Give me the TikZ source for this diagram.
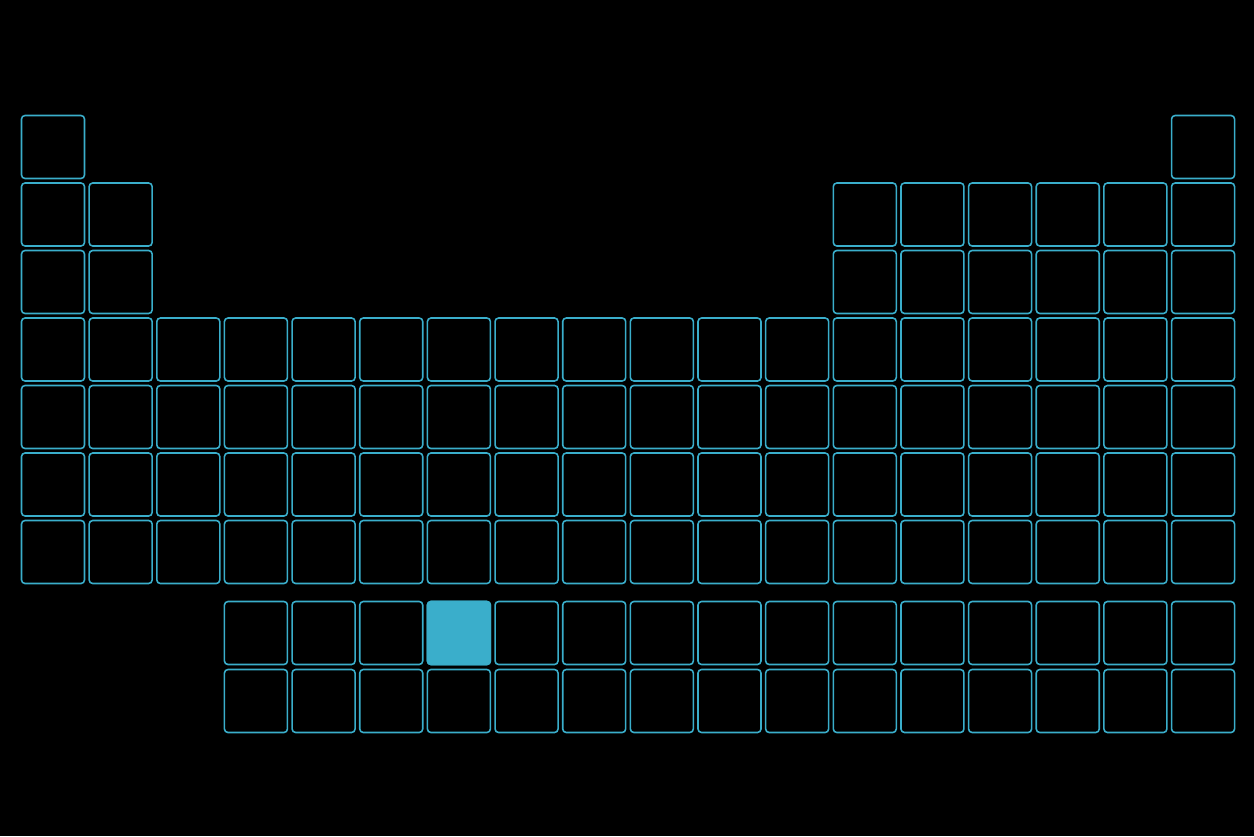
\documentclass[tikz,border=0pt]{standalone}
\usetikzlibrary{positioning}
\definecolor{glow}{HTML}{3AAECB}

\begin{document}
\begin{tikzpicture}[x=0.02cm, y=-0.02cm,
  cell/.style={draw=glow, line width=0.9pt, rounded corners=2pt, minimum size=1.26cm, inner sep=0pt},
  picked/.style={cell, fill=glow}
]
  \fill[black] (0,0) rectangle (1254,836);
  \useasboundingbox (0,0) rectangle (1254,836);
  % main block
  \foreach \c in {1,18}
    \node[cell] (e-1-\c) at ({53+(\c-1)*67.65}, 147) {};
  \foreach \r in {2,3}
    \foreach \c in {1,2,13,14,...,18}
      \node[cell] (e-\r-\c) at ({53+(\c-1)*67.65}, {147+(\r-1)*67.5}) {};
  \foreach \r in {4,...,7}
    \foreach \c in {1,...,18}
      \node[cell] (e-\r-\c) at ({53+(\c-1)*67.65}, {147+(\r-1)*67.5}) {};
  % f block
  \foreach \r/\y in {8/633, 9/701}
    \foreach \c in {4,...,18}
      \node[cell] (e-\r-\c) at ({53+(\c-1)*67.65}, \y) {};
  \node[picked] (nd) at (e-8-7) {};
\end{tikzpicture}
\end{document}
